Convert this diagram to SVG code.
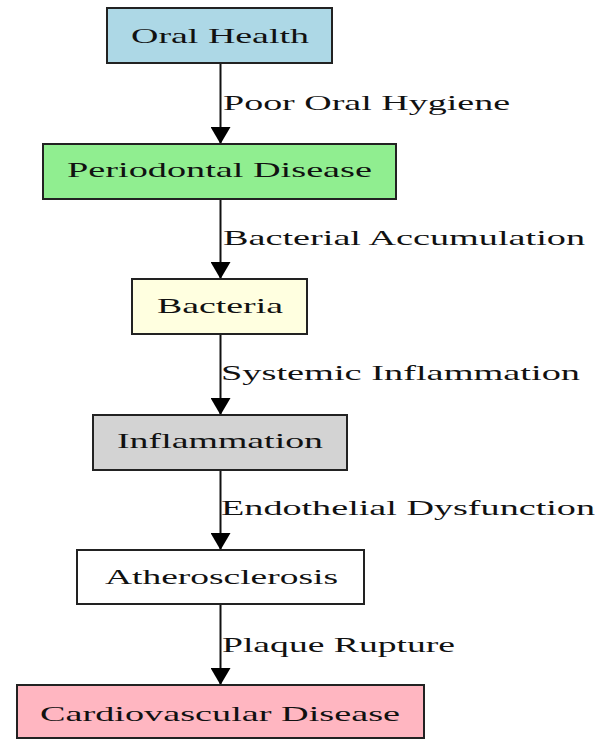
<svg xmlns="http://www.w3.org/2000/svg" width="607" height="740" viewBox="0 0 607 740">
<style>
.box{stroke:#222;stroke-width:2}
.t{font-family:"Liberation Serif","Times New Roman",serif;font-size:22px;fill:#111}
.edge{stroke:#111;stroke-width:2;fill:none}
</style>
<defs>
<marker id="arr" viewBox="0 0 17 20" refX="17" refY="10" markerWidth="17" markerHeight="20" markerUnits="userSpaceOnUse" orient="auto">
<path d="M0,0 L17,10 L0,20 z" fill="#000"/>
</marker>
</defs>
<rect width="607" height="740" fill="#fff"/>
<g id="connectors">
<line class="edge" x1="220.5" y1="63" x2="220.5" y2="144" marker-end="url(#arr)"/>
<text class="t" x="223" y="110" textLength="287" lengthAdjust="spacingAndGlyphs">Poor Oral Hygiene</text>
<line class="edge" x1="220.5" y1="199" x2="220.5" y2="279" marker-end="url(#arr)"/>
<text class="t" x="223" y="245" textLength="362" lengthAdjust="spacingAndGlyphs">Bacterial Accumulation</text>
<line class="edge" x1="220.5" y1="334" x2="220.5" y2="415" marker-end="url(#arr)"/>
<text class="t" x="221" y="380" textLength="359" lengthAdjust="spacingAndGlyphs">Systemic Inflammation</text>
<line class="edge" x1="220.5" y1="470" x2="220.5" y2="550" marker-end="url(#arr)"/>
<text class="t" x="221" y="515" textLength="374" lengthAdjust="spacingAndGlyphs">Endothelial Dysfunction</text>
<line class="edge" x1="220.5" y1="604" x2="220.5" y2="685" marker-end="url(#arr)"/>
<text class="t" x="222" y="652" textLength="233" lengthAdjust="spacingAndGlyphs">Plaque Rupture</text>
</g>
<g id="oral-health">
<rect class="box" x="107" y="8" width="225" height="55" fill="#ADD8E6"/>
<text class="t" x="131" y="43" textLength="178" lengthAdjust="spacingAndGlyphs">Oral Health</text>
</g>
<g id="periodontal-disease">
<rect class="box" x="43" y="144" width="353" height="55" fill="#90EE90"/>
<text class="t" x="67" y="177" textLength="305" lengthAdjust="spacingAndGlyphs">Periodontal Disease</text>
</g>
<g id="bacteria">
<rect class="box" x="132" y="279" width="175" height="55" fill="#FFFFE0"/>
<text class="t" x="157" y="313" textLength="126" lengthAdjust="spacingAndGlyphs">Bacteria</text>
</g>
<g id="inflammation">
<rect class="box" x="93" y="415" width="254" height="55" fill="#D3D3D3"/>
<text class="t" x="117" y="448" textLength="206" lengthAdjust="spacingAndGlyphs">Inflammation</text>
</g>
<g id="atherosclerosis">
<rect class="box" x="77" y="550" width="287" height="54" fill="#FFFFFF"/>
<text class="t" x="105" y="584" textLength="233" lengthAdjust="spacingAndGlyphs">Atherosclerosis</text>
</g>
<g id="cardiovascular-disease">
<rect class="box" x="17" y="685" width="407" height="53" fill="#FFB6C1"/>
<text class="t" x="40" y="721" textLength="360" lengthAdjust="spacingAndGlyphs">Cardiovascular Disease</text>
</g>
</svg>
